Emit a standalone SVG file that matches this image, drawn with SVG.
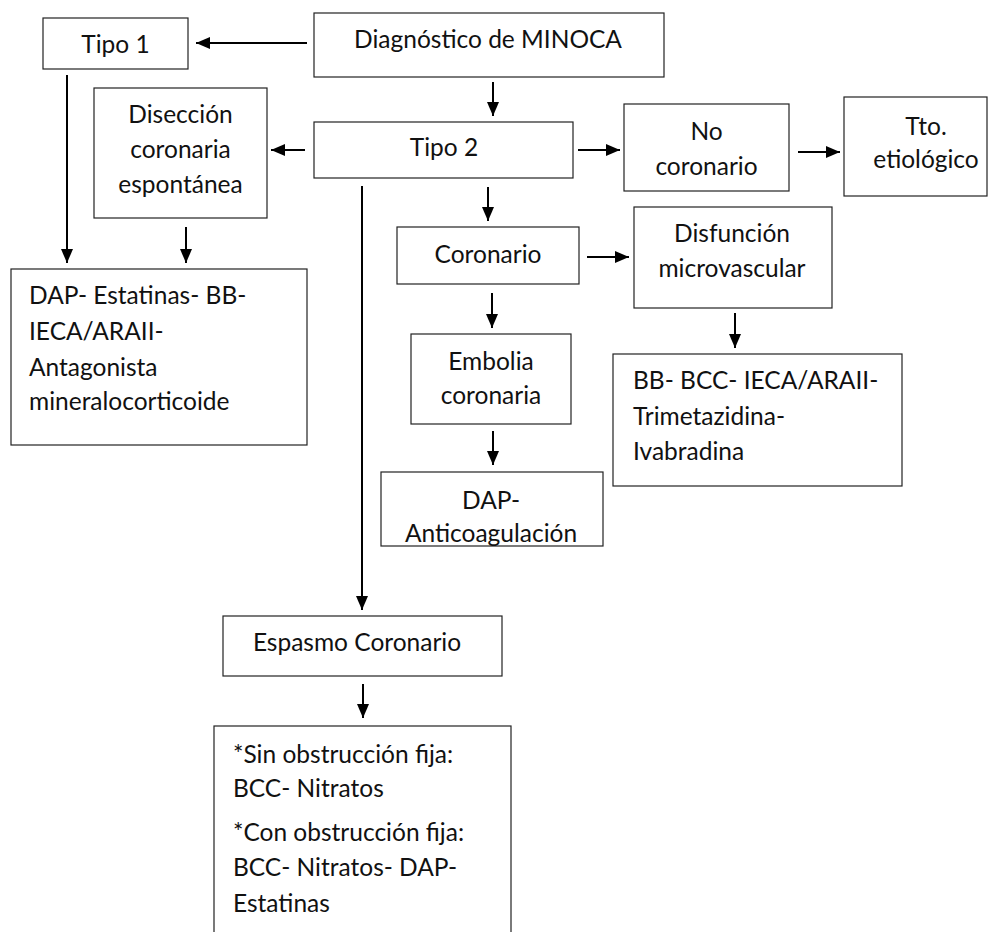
<svg xmlns="http://www.w3.org/2000/svg" width="997" height="932" viewBox="0 0 997 932">
<defs>
<marker id="ah" viewBox="0 0 14 12" refX="14" refY="6" markerWidth="14" markerHeight="12" markerUnits="userSpaceOnUse" orient="auto">
<path d="M0,0 L14,6 L0,12 Z" fill="#000"/>
</marker>
</defs>
<style>
rect{fill:#fff;stroke:#222;stroke-width:1.2}
text{font-family:Lato,"Open Sans",sans-serif;font-size:24.5px;fill:#111}
.c{text-anchor:middle}
#connectors line{stroke:#000;stroke-width:2;marker-end:url(#ah)}
</style>
<g id="connectors">
<line x1="307" y1="43" x2="196" y2="43"/>
<line x1="493" y1="82" x2="493" y2="116"/>
<line x1="305" y1="150" x2="271" y2="150"/>
<line x1="67" y1="75" x2="67" y2="263"/>
<line x1="186" y1="227" x2="186" y2="263"/>
<line x1="488" y1="187" x2="488" y2="221"/>
<line x1="578" y1="150" x2="620" y2="150"/>
<line x1="798" y1="152" x2="840" y2="152"/>
<line x1="587" y1="257" x2="629" y2="257"/>
<line x1="735" y1="313" x2="735" y2="348"/>
<line x1="492" y1="293" x2="492" y2="328"/>
<line x1="493" y1="431" x2="493" y2="465"/>
<line x1="362" y1="186" x2="362" y2="610"/>
<line x1="363" y1="684" x2="363" y2="718"/>
</g>
<g id="diagnostico"><rect x="314" y="13" width="350" height="64"/><text class="c" x="488" y="48">Diagnóstico de MINOCA</text></g>
<g id="tipo1"><rect x="43" y="18" width="145" height="51"/><text class="c" x="115.5" y="53">Tipo 1</text></g>
<g id="tipo2"><rect x="314" y="122" width="259" height="56"/><text class="c" x="444" y="156">Tipo 2</text></g>
<g id="diseccion"><rect x="94" y="88" width="173" height="130"/><text class="c" x="180.5" y="123">Disección</text><text class="c" x="180.5" y="158">coronaria</text><text class="c" x="180.5" y="193">espontánea</text></g>
<g id="tto1"><rect x="11" y="269" width="296" height="176"/><text x="29" y="304">DAP- Estatinas- BB-</text><text x="29" y="340">IECA/ARAII-</text><text x="29" y="376">Antagonista</text><text x="29" y="410">mineralocorticoide</text></g>
<g id="nocoronario"><rect x="624" y="104" width="165" height="87"/><text class="c" x="706.5" y="140">No</text><text class="c" x="706.5" y="175">coronario</text></g>
<g id="ttoetio"><rect x="844" y="97" width="143" height="99"/><text class="c" x="926" y="135">Tto.</text><text class="c" x="926" y="168">etiológico</text></g>
<g id="coronario"><rect x="397" y="227" width="182" height="57"/><text class="c" x="488" y="263">Coronario</text></g>
<g id="disfuncion"><rect x="634" y="207" width="198" height="101"/><text class="c" x="732" y="242">Disfunción</text><text class="c" x="732" y="277">microvascular</text></g>
<g id="ttomicro"><rect x="613" y="354" width="289" height="132"/><text x="633" y="389">BB- BCC- IECA/ARAII-</text><text x="633" y="425">Trimetazidina-</text><text x="633" y="460">Ivabradina</text></g>
<g id="embolia"><rect x="411" y="334" width="160" height="90"/><text class="c" x="491" y="370">Embolia</text><text class="c" x="491" y="404">coronaria</text></g>
<g id="ttoembolia"><rect x="381" y="472" width="222" height="74"/><text class="c" x="491" y="509">DAP-</text><text class="c" x="491" y="542">Anticoagulación</text></g>
<g id="espasmo"><rect x="223" y="616" width="279" height="60"/><text class="c" x="357" y="651">Espasmo Coronario</text></g>
<g id="ttoespasmo"><rect x="214" y="726" width="297" height="220"/><text x="233" y="763">*Sin obstrucción fija:</text><text x="233" y="797">BCC- Nitratos</text><text x="233" y="841">*Con obstrucción fija:</text><text x="233" y="876">BCC- Nitratos- DAP-</text><text x="233" y="912">Estatinas</text></g>
</svg>
